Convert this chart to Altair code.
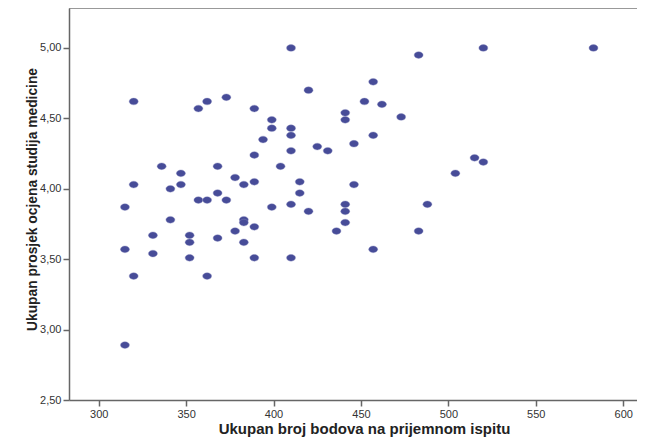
import altair as alt
import pandas as pd

# Ukupan broj bodova na prijemnom ispitu
bodovi = [410, 483, 520, 583, 457, 420, 320, 362, 373, 357, 389, 452, 462, 473,
          441, 441, 399, 399, 410, 410, 457, 394, 446, 425, 431, 410, 389, 515,
          520, 336, 368, 404, 347, 504, 378, 389, 415, 320, 347, 383, 446, 341,
          368, 415, 357, 362, 373, 410, 441, 488, 315, 399, 420, 441, 341, 383,
          383, 441, 389, 378, 436, 483, 331, 352, 368, 352, 383, 331, 315, 457,
          352, 389, 410, 320, 362, 315]
# Ukupan prosjek ocjena studija medicine
prosjek = [5.00, 4.95, 5.00, 5.00, 4.76, 4.70, 4.62, 4.62, 4.65, 4.57, 4.57, 4.62, 4.60, 4.51,
           4.54, 4.49, 4.49, 4.43, 4.43, 4.38, 4.38, 4.35, 4.32, 4.30, 4.27, 4.27, 4.24, 4.22,
           4.19, 4.16, 4.16, 4.16, 4.11, 4.11, 4.08, 4.05, 4.05, 4.03, 4.03, 4.03, 4.03, 4.00,
           3.97, 3.97, 3.92, 3.92, 3.92, 3.89, 3.89, 3.89, 3.87, 3.87, 3.84, 3.84, 3.78, 3.78,
           3.76, 3.76, 3.73, 3.70, 3.70, 3.70, 3.67, 3.67, 3.65, 3.62, 3.62, 3.54, 3.57, 3.57,
           3.51, 3.51, 3.51, 3.38, 3.38, 2.89]

x_ticks = [300, 350, 400, 450, 500, 550, 600]
y_ticks = [2.5, 3.0, 3.5, 4.0, 4.5, 5.0]

df = pd.DataFrame({"bodovi": bodovi, "prosjek": prosjek})

W, H = 568, 392
ellipse = "M -1 0 A 1 0.75 0 1 0 1 0 A 1 0.75 0 1 0 -1 0 Z"

points = alt.Chart(df).mark_point(
    shape=ellipse, filled=True, size=81, color="#474c98", opacity=1,
    stroke="#8a8dc0", strokeWidth=0.4
).encode(
    x=alt.X("bodovi:Q",
            scale=alt.Scale(domain=[283, 607.9], nice=False, zero=False),
            axis=alt.Axis(values=x_ticks, title="Ukupan broj bodova na prijemnom ispitu",
                          grid=False, tickSize=6, labelPadding=2, titleFontSize=15,
                          titleY=33.5, titleX=295, titleBaseline="alphabetic")),
    y=alt.Y("prosjek:Q",
            scale=alt.Scale(domain=[2.5, 5.284], nice=False, zero=False),
            axis=alt.Axis(values=y_ticks, title="Ukupan prosjek ocjena studija medicine",
                          grid=False, tickSize=6, labelPadding=2, titleFontSize=13.8,
                          labelExpr="replace(format(datum.value, '.2f'), '.', ',')",
                          titleX=-37, titleY=191, titleBaseline="middle", titleAngle=-90)),
)

top_line = alt.Chart(pd.DataFrame({"a": [0]})).mark_rule(color="#777777", strokeWidth=1.5).encode(
    x=alt.value(0), x2=alt.value(W), y=alt.value(0)
)

chart = alt.layer(top_line, points).properties(
    width=W, height=H,
    autosize=alt.AutoSizeParams(type="none"),
    padding={"left": 61, "top": 0, "right": 0, "bottom": 38},
).configure_view(stroke=None).configure_axis(
    domainColor="#666666", domainWidth=1.5, tickColor="#666666", tickWidth=1.5,
    labelFont="Liberation Sans", labelFontSize=11, labelColor="#333333",
    titleFont="Liberation Sans", titleFontWeight="bold", titleColor="#222222",
)

chart.save("out.html", embed_options={"renderer": "svg", "actions": False})
